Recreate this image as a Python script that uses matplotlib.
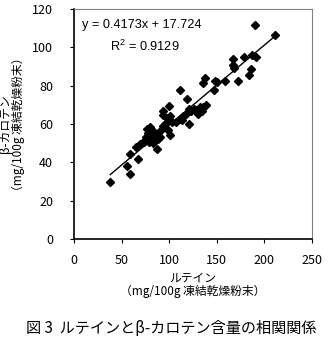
import numpy as np
import matplotlib.pyplot as plt

plt.rcParams['font.family'] = ['Noto Sans CJK JP', 'DejaVu Sans']

# lutein vs beta-carotene (mg/100g freeze-dried powder)
lutein = [190, 211, 187, 191, 179, 167, 167, 168, 186, 184,
          172, 159, 148, 150, 147, 138, 136, 111, 119, 100,
          139, 136, 132, 128, 126, 123, 121, 134, 130, 118,
          114, 111, 113, 107, 103, 101, 93, 94, 121, 93,
          96, 99, 101, 80, 82, 84, 87, 78, 76, 82,
          85, 79, 74, 72, 83, 87, 90, 69, 65, 59,
          67, 56, 38, 59, 91, 88, 77, 98]
beta = [111.6, 106.4, 96, 94.8, 94.8, 93.7, 90.8, 89, 88.7, 85.5,
        82.6, 82.4, 82.6, 82, 78, 84, 81.6, 77.7, 72.9, 69.4,
        69.9, 69, 68.7, 67.3, 68, 66.7, 67.8, 66.7, 65.3, 65,
        64.3, 62.8, 62, 61, 61.2, 64, 66.8, 64.7, 60, 59,
        60, 56.9, 54.3, 58.6, 56.9, 55.5, 54.3, 55.1, 53.4, 53.4,
        51.6, 50.7, 50.7, 50.4, 49.9, 47, 53.4, 49.5, 48, 44.2,
        41.6, 38.3, 29.6, 33.8, 57, 52, 57.5, 63]

slope, intercept = 0.4173, 17.724
r2 = 0.9129

fig = plt.figure(figsize=(3.28, 3.42), dpi=100)
ax = fig.add_axes([74/328, 1-239/342, 238/328, 230/342])

ax.plot(lutein, beta, 'kD', markersize=4.5, linestyle='none')
xs = np.array([min(lutein), max(lutein)])
ax.plot(xs, slope*xs + intercept, 'k', linewidth=1)

ax.set_xlim(0, 250)
ax.set_ylim(0, 120)
ax.set_xticks(np.arange(0, 251, 50))
ax.set_yticks(np.arange(0, 121, 20))
ax.tick_params(direction='out', length=3, width=0.8, labelsize=9)
ax.tick_params(axis='y', pad=12)
ax.tick_params(axis='x', pad=8)
for s in ['top', 'right']:
    ax.spines[s].set_color('#808080')
for s in ['left', 'bottom']:
    ax.spines[s].set_linewidth(1.2)

ax.text(0.035, 0.955, 'y = 0.4173x + 17.724', transform=ax.transAxes,
        fontsize=9.2, family='Liberation Sans', va='top')
ax.text(0.152, 0.87, '$\\mathregular{R^2}$ = %.4f' % r2, transform=ax.transAxes,
        fontsize=9.2, family='Liberation Sans', va='top')

ax.set_xlabel('ルテイン\n（mg/100g 凍結乾燥粉末）', fontsize=8.5, linespacing=1.05, labelpad=3)
ax.set_ylabel('β-カロテン\n（mg/100g 凍結乾燥粉末）', fontsize=8.5, linespacing=1.05, labelpad=5)

fig.text(171/328, 1-328/342, '図 3  ルテインとβ-カロテン含量の相関関係',
         ha='center', va='center', fontsize=10.9)

fig.savefig('out.png', dpi=100)
